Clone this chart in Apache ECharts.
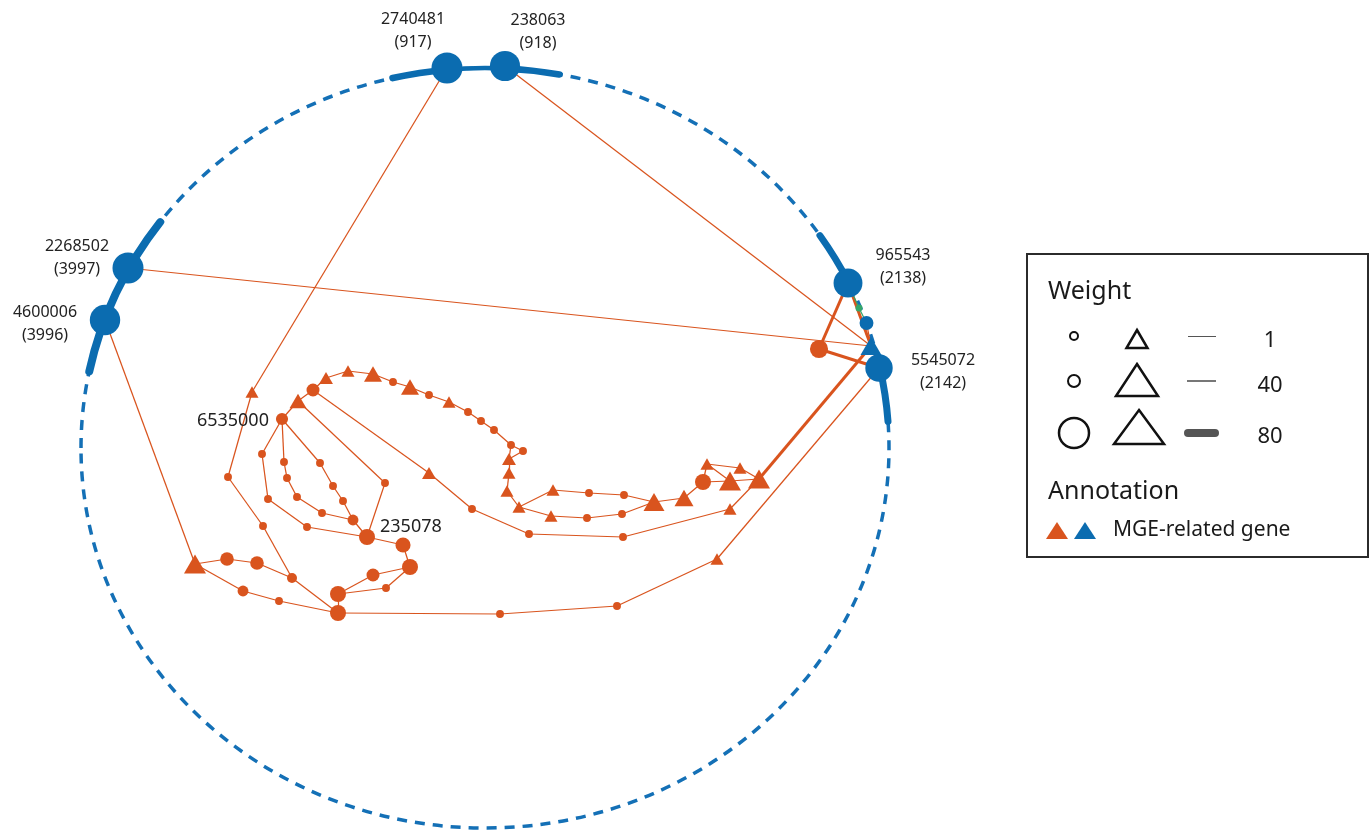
<!DOCTYPE html>
<html>
<head>
<meta charset="utf-8">
<title>contig graph</title>
<script src="https://cdn.jsdelivr.net/npm/echarts@6/dist/echarts.min.js"></script>
<style>
	html, body { margin: 0; padding: 0; background: #fff; }
	#main { width: 1369px; height: 832px; }
</style>
</head>
<body>
<div id="main"></div>
<script>
	'use strict';

	// 节点: [id, x, y, 形状(c圆/t三角), 权重]
	var hubNodes = [
		['b1', 447, 68, 'c', 80],
		['b2', 505, 66, 'c', 77],
		['b3', 128, 268, 'c', 80],
		['b4', 105, 320, 'c', 78],
		['b5', 848, 283, 'c', 73],
		['b6', 866.5, 323, 'c', 23],
		['b7', 871, 346, 't', 69],
		['b8', 879, 368, 'c', 68]
	];

	var greenNodes = [
		['g1', 859, 308, 'c', 0]
	];

	var leftNodes = [
		['n1', 252, 392, 't', 8],
		['n2', 228, 477, 'c', 3],
		['n3', 263, 526, 'c', 3],
		['n4', 292, 578, 'c', 10],
		['n5', 338, 613, 'c', 30],
		['n6', 338, 594, 'c', 30],
		['n7', 195, 564, 't', 77],
		['n8', 227, 559, 'c', 22],
		['n9', 257, 563, 'c', 22],
		['n10', 243, 591, 'c', 13],
		['n11', 279, 601, 'c', 3],
		['n12', 373, 575, 'c', 20],
		['n13', 410, 567, 'c', 30],
		['n14', 386, 588, 'c', 3],
		['n15', 403, 545, 'c', 27],
		['n16', 367, 537, 'c', 30],
		['n17', 385, 483, 'c', 3],
		['n18', 298, 401, 't', 38],
		['n19', 353, 520, 'c', 13],
		['n20', 343, 501, 'c', 3],
		['n21', 333, 486, 'c', 3],
		['n22', 320, 463, 'c', 3],
		['n23', 282, 419, 'c', 17],
		['n24', 322, 513, 'c', 3],
		['n25', 297, 497, 'c', 3],
		['n26', 287, 478, 'c', 3],
		['n27', 284, 462, 'c', 3],
		['n28', 307, 527, 'c', 3],
		['n29', 268, 499, 'c', 3],
		['n30', 262, 454, 'c', 3]
	];

	var upperNodes = [
		['u3', 313, 390, 'c', 20],
		['u4', 326, 378, 't', 15],
		['u5', 348, 371, 't', 8],
		['u6', 373, 374, 't', 46],
		['u7', 393, 382, 'c', 3],
		['u8', 410, 387, 't', 46],
		['u9', 429, 395, 'c', 3],
		['u10', 449, 402, 't', 8],
		['u11', 468, 412, 'c', 3],
		['u12', 481, 421, 'c', 3],
		['u13', 494, 430, 'c', 3],
		['u14', 511, 445, 'c', 3],
		['u15', 523, 451, 'c', 3],
		['u16', 509, 459, 't', 15],
		['u17', 509, 473, 't', 8],
		['u18', 507, 491, 't', 8],
		['u19', 519, 507, 't', 8],
		['u20', 553, 490, 't', 8],
		['u21', 589, 493, 'c', 3],
		['u22', 624, 495, 'c', 3],
		['u23', 551, 516, 't', 8],
		['u24', 587, 518, 'c', 3],
		['u25', 622, 514, 'c', 3],
		['u26', 654, 502, 't', 69],
		['u27', 684, 498, 't', 54],
		['u28', 703, 482, 'c', 30],
		['u29', 707, 464, 't', 8],
		['u30', 740, 468, 't', 8],
		['u31', 730, 481, 't', 77],
		['u32', 759, 479, 't', 77]
	];

	var lowerNodes = [
		['r1', 819, 349, 'c', 37],
		['l1', 429, 473, 't', 15],
		['l2', 472, 509, 'c', 3],
		['l3', 529, 534, 'c', 3],
		['l4', 623, 537, 'c', 3],
		['l5', 730, 509, 't', 8],
		['m1', 500, 614, 'c', 3],
		['m2', 617, 606, 'c', 3],
		['m3', 717, 559, 't', 8]
	];

	// 边: [起点, 终点, 权重]
	var leftEdges = [
		['b1', 'n1', 1], ['n1', 'n2', 1], ['n2', 'n3', 1], ['n3', 'n4', 1], ['n4', 'n5', 1],
		['b4', 'n7', 1], ['n7', 'n8', 1], ['n8', 'n9', 1], ['n9', 'n4', 1],
		['n7', 'n10', 1], ['n10', 'n11', 1], ['n11', 'n5', 1],
		['n5', 'n6', 1], ['n6', 'n12', 1], ['n12', 'n13', 1], ['n6', 'n14', 1], ['n14', 'n13', 1],
		['n13', 'n15', 1], ['n15', 'n16', 1], ['n16', 'n17', 1], ['n17', 'n18', 1],
		['n16', 'n19', 1], ['n19', 'n20', 1], ['n20', 'n21', 1], ['n21', 'n22', 1], ['n22', 'n23', 1],
		['n19', 'n24', 1], ['n24', 'n25', 1], ['n25', 'n26', 1], ['n26', 'n27', 1], ['n27', 'n23', 1],
		['n16', 'n28', 1], ['n28', 'n29', 1], ['n29', 'n30', 1], ['n30', 'n23', 1]
	];

	var upperEdges = [
		['n23', 'n18', 1], ['n18', 'u3', 1], ['u3', 'u4', 1], ['u4', 'u5', 1], ['u5', 'u6', 1],
		['u6', 'u7', 1], ['u7', 'u8', 1], ['u8', 'u9', 1], ['u9', 'u10', 1], ['u10', 'u11', 1],
		['u11', 'u12', 1], ['u12', 'u13', 1], ['u13', 'u14', 1], ['u14', 'u15', 1], ['u15', 'u16', 1],
		['u14', 'u16', 1], ['u16', 'u17', 1], ['u17', 'u18', 1], ['u18', 'u19', 1],
		['u19', 'u20', 1], ['u20', 'u21', 1], ['u21', 'u22', 1], ['u22', 'u26', 1],
		['u19', 'u23', 1], ['u23', 'u24', 1], ['u24', 'u25', 1], ['u25', 'u26', 1],
		['u26', 'u27', 1], ['u27', 'u28', 1], ['u28', 'u29', 1], ['u29', 'u30', 1], ['u30', 'u32', 1],
		['u28', 'u31', 1], ['u29', 'u31', 1], ['u31', 'u32', 1]
	];

	var lowerEdges = [
		['u32', 'b7', 40],
		['u3', 'l1', 1], ['l1', 'l2', 1], ['l2', 'l3', 1], ['l3', 'l4', 1], ['l4', 'l5', 1], ['l5', 'u32', 1],
		['n5', 'm1', 1], ['m1', 'm2', 1], ['m2', 'm3', 1], ['m3', 'b8', 1],
		['b2', 'b7', 1], ['b3', 'b7', 1],
		['b5', 'r1', 40], ['b5', 'b7', 40], ['r1', 'b8', 40],
		['b6', 'b7', 1], ['b7', 'b8', 1]
	];

	var greenEdges = [
		['b5', 'g1', 1], ['g1', 'b6', 1]
	];

	var nodeLabel = {
		b1: '2740481\n(917)',
		b2: '238063\n(918)',
		b3: '2268502\n(3997)',
		b4: '4600006\n(3996)',
		b5: '965543\n(2138)',
		b8: '5545072\n(2142)',
		n23: '6535000',
		n16: '235078'
	};

	// 图例
	var legendWeights = ['1', '40', '80'];
	var legendAnnotation = 'MGE-related gene';

	var BLUE = '#0b6cb0';
	var ORANGE = '#d9541e';
	var GREEN = '#35a66a';
	var FONT = '"Noto Sans", "DejaVu Sans", sans-serif';

	// 标签位置
	var labelPlace = {
		b1: {position: 'inside', offset: [-34, -37]},
		b2: {position: 'inside', offset: [33, -34]},
		b3: {position: 'inside', offset: [-51, -10]},
		b4: {position: 'inside', offset: [-60, 4]},
		b5: {position: 'inside', offset: [55, -16]},
		b8: {position: 'inside', offset: [64, 4]},
		n23: {position: 'left', distance: 7, offset: [0, 2]},
		n16: {position: 'right', distance: 5, offset: [0, -10]}
	};

	function symbolSize(shape, w) {
		if (shape === 't') {
			var s = 12 + w * 0.13;
			return [s, s * 0.87];
		}
		return 7 + w * 0.3;
	}

	function buildNodes(list, color) {
		return list.map(function (row) {
			var id = row[0];
			var item = {
				name: id,
				value: [row[1], row[2]],
				symbol: row[3] === 't' ? 'triangle' : 'circle',
				symbolSize: symbolSize(row[3], row[4]),
				itemStyle: {color: color}
			};
			if (nodeLabel[id]) {
				var p = labelPlace[id];
				var big = id.charAt(0) === 'n';
				item.label = {
					show: true,
					formatter: nodeLabel[id],
					position: p.position,
					offset: p.offset,
					distance: p.distance || 5,
					fontFamily: FONT,
					fontSize: big ? 18 : 16,
					lineHeight: big ? 22 : 23,
					color: '#222'
				};
			}
			return item;
		});
	}

	function buildLinks(list, color) {
		return list.map(function (e) {
			return {
				source: e[0],
				target: e[1],
				lineStyle: {width: 1.2 + e[2] * 0.045, color: color, opacity: 1}
			};
		});
	}

	var nodes = [].concat(
		buildNodes(lowerNodes, ORANGE),
		buildNodes(leftNodes, ORANGE),
		buildNodes(upperNodes, ORANGE),
		buildNodes(greenNodes, GREEN),
		buildNodes(hubNodes, BLUE)
	);

	var links = [].concat(
		buildLinks(leftEdges, ORANGE),
		buildLinks(upperEdges, ORANGE),
		buildLinks(lowerEdges, ORANGE),
		buildLinks(greenEdges, GREEN)
	);

	// 环: 椭圆虚线 + 粗弧
	var ringCx = 485, ringCy = 448, ringRx = 404, ringRy = 380;

	function arc(a0, a1, width) {
		return {
			type: 'arc',
			shape: {cx: 0, cy: 0, r: ringRx, startAngle: a0 * Math.PI / 180, endAngle: a1 * Math.PI / 180, clockwise: true},
			style: {stroke: BLUE, lineWidth: width, fill: null, lineCap: 'round'}
		};
	}

	function tri(cx, top, w, h, fill, stroke) {
		return {
			type: 'polygon',
			shape: {points: [[cx, top], [cx + w / 2, top + h], [cx - w / 2, top + h]]},
			style: fill ? {fill: fill} : {fill: null, stroke: stroke, lineWidth: 2.5, lineJoin: 'miter'}
		};
	}

	function txt(x, y, s, size, align) {
		return {
			type: 'text',
			x: x,
			y: y,
			style: {text: s, font: size + 'px ' + FONT, fill: '#1a1a1a', textAlign: align || 'left', textVerticalAlign: 'middle'}
		};
	}

	var ring = [
		{
			type: 'ellipse',
			shape: {cx: ringCx, cy: ringCy, rx: ringRx, ry: ringRy},
			style: {fill: null, stroke: '#1470b6', lineWidth: 3.5, lineDash: [10, 8]},
			z: 0
		},
		{
			type: 'group',
			x: ringCx,
			y: ringCy,
			scaleY: ringRy / ringRx,
			z: 1,
			children: [
				arc(-103.2, -95.4, 7),
				arc(-95.4, -87.2, 5),
				arc(-87.2, -79.4, 7),
				arc(-168.4, -143.5, 8),
				arc(-34.0, -25.8, 7),
				arc(-12.2, -4.0, 7)
			]
		}
	];

	var legendBox = {
		type: 'group',
		z: 10,
		children: [
			{type: 'rect', shape: {x: 1027, y: 254, width: 341, height: 303}, style: {fill: '#fff', stroke: '#2b2b2b', lineWidth: 2}},
			txt(1048, 292, 'Weight', 25),
			{type: 'circle', shape: {cx: 1074, cy: 336, r: 4}, style: {fill: null, stroke: '#111', lineWidth: 2}},
			{type: 'circle', shape: {cx: 1074, cy: 381, r: 6}, style: {fill: null, stroke: '#111', lineWidth: 2}},
			{type: 'circle', shape: {cx: 1074, cy: 433, r: 15}, style: {fill: null, stroke: '#111', lineWidth: 2.5}},
			tri(1137, 330, 21, 18, null, '#111'),
			tri(1137, 364, 42, 32, null, '#111'),
			tri(1139, 410, 50, 34, null, '#111'),
			{type: 'line', shape: {x1: 1188, y1: 336.5, x2: 1216, y2: 336.5}, style: {stroke: '#555', lineWidth: 1}},
			{type: 'line', shape: {x1: 1187, y1: 381, x2: 1216, y2: 381}, style: {stroke: '#555', lineWidth: 1.6}},
			{type: 'line', shape: {x1: 1188, y1: 433, x2: 1215, y2: 433}, style: {stroke: '#555', lineWidth: 8, lineCap: 'round'}},
			txt(1270, 341, legendWeights[0], 22, 'center'),
			txt(1270, 386, legendWeights[1], 22, 'center'),
			txt(1270, 437, legendWeights[2], 22, 'center'),
			txt(1048, 492, 'Annotation', 25),
			tri(1057, 522, 22, 17, ORANGE),
			tri(1085, 522, 22, 17, BLUE),
			txt(1113, 530, legendAnnotation, 21)
		]
	};

	var option = {
		animation: false,
		backgroundColor: '#fff',
		grid: {left: 0, right: 0, top: 0, bottom: 0},
		xAxis: {type: 'value', min: 0, max: 1369, show: false},
		yAxis: {type: 'value', min: 0, max: 832, inverse: true, show: false},
		graphic: {elements: ring.concat([legendBox])},
		series: [
			{
				type: 'graph',
				layout: 'none',
				coordinateSystem: 'cartesian2d',
				silent: true,
				z: 3,
				data: nodes,
				links: links,
				lineStyle: {color: ORANGE, opacity: 1, curveness: 0},
				label: {show: false},
				emphasis: {disabled: true}
			}
		]
	};

	var chart = echarts.init(document.getElementById('main'));
	chart.setOption(option);
</script>
</body>
</html>
